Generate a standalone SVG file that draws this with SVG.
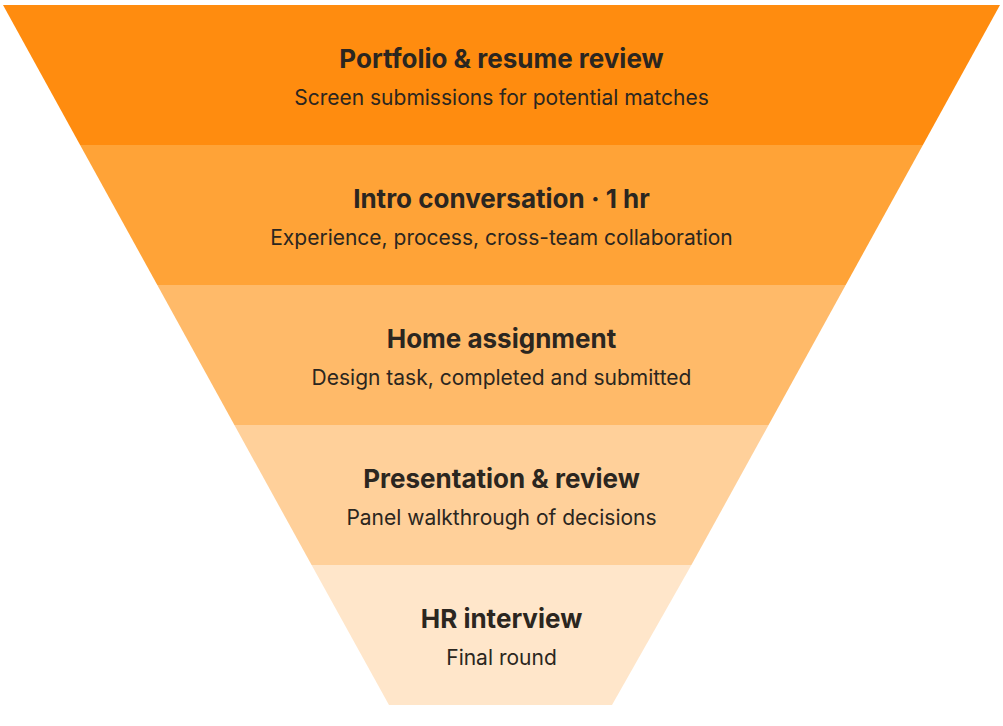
<svg xmlns="http://www.w3.org/2000/svg" width="1003" height="726" viewBox="0 0 1003 726">
<style>
.t{font-family:Inter,"Noto Sans",sans-serif;font-size:26px;font-weight:700;fill:#2b2620;text-anchor:middle}
.s{font-family:Inter,"Noto Sans",sans-serif;font-size:21px;fill:#2b2620;text-anchor:middle}
</style>
<rect width="1003" height="726" fill="#fff"/>
<g id="n1"><polygon points="3,5 1000,5 922.9,145 80.1,145" fill="#FF8C0F"/><text class="t" x="501.5" y="68">Portfolio &amp; resume review</text><text class="s" x="501.5" y="105">Screen submissions for potential matches</text></g>
<g id="n2"><polygon points="80.1,145 922.9,145 845.7,285 157.3,285" fill="#FFA337"/><text class="t" x="501.5" y="208">Intro conversation · 1 hr</text><text class="s" x="501.5" y="245">Experience, process, cross-team collaboration</text></g>
<g id="n3"><polygon points="157.3,285 845.7,285 768.6,425 234.4,425" fill="#FFBA69"/><text class="t" x="501.5" y="348">Home assignment</text><text class="s" x="501.5" y="385">Design task, completed and submitted</text></g>
<g id="n4"><polygon points="234.4,425 768.6,425 691.4,565 311.6,565" fill="#FFD09A"/><text class="t" x="501.5" y="488">Presentation &amp; review</text><text class="s" x="501.5" y="525">Panel walkthrough of decisions</text></g>
<g id="n5"><polygon points="311.6,565 691.4,565 612,705 389,705" fill="#FFE6CA"/><text class="t" x="501.5" y="628">HR interview</text><text class="s" x="501.5" y="665">Final round</text></g>
<g id="connectors"/>
</svg>
